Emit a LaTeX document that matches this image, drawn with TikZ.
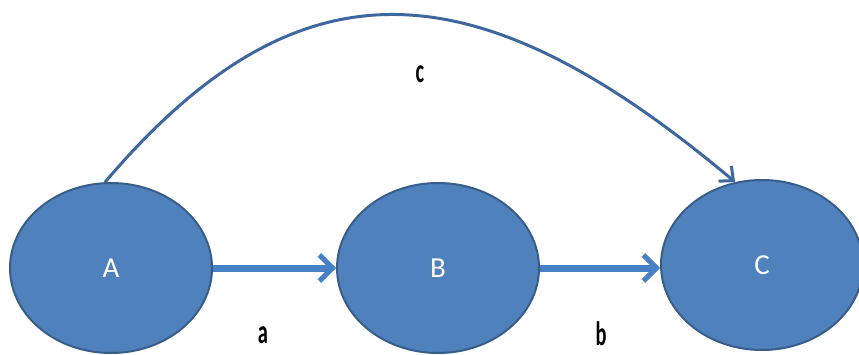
\documentclass[tikz,border=0pt]{standalone}
\usepackage{fontspec}
\setmainfont{Carlito}
\usetikzlibrary{shapes.geometric,arrows.meta}

\definecolor{nodefill}{RGB}{79,129,189}
\definecolor{nodeline}{RGB}{56,93,138}
\definecolor{flowline}{RGB}{70,130,195}
\definecolor{arcline}{RGB}{62,103,160}

\begin{document}
\begin{tikzpicture}[x=1pt,y=1pt,
  state/.style={ellipse,draw=nodeline,line width=2pt,fill=nodefill,
    minimum width=202pt,minimum height=170pt,inner sep=0pt,
    text=white,font=\fontsize{29}{30}\selectfont},
  flow/.style={line width=7pt,draw=flowline,
    -{Straight Barb[length=13pt,width=26pt,line width=5pt]}},
  arc/.style={line width=3pt,draw=arcline,
    -{Straight Barb[length=11pt,width=20pt,line width=3pt]}},
  lbl/.style={font=\bfseries\fontsize{34}{34}\selectfont,xscale=0.6,anchor=base}]
\useasboundingbox (0,0) rectangle (859,354);
% the three states
\node[state] (A) at (111,86) {A};
\node[state] (B) at (438,86) {B};
\node[state] (C) at (762,89) {C};
% straight flows
\draw[flow] (A.east) -- (B.west);
\draw[flow] (B.east) -- (B.east -| C.west);
% long way round
\draw[arc] (A.94) .. controls (295,395) and (470,395) .. (C.108);
\node[lbl] (la) at (263,11) {a};
\node[lbl] (lb) at (601,9) {b};
\node[lbl] (lc) at (420,271) {c};
\end{tikzpicture}
\end{document}
